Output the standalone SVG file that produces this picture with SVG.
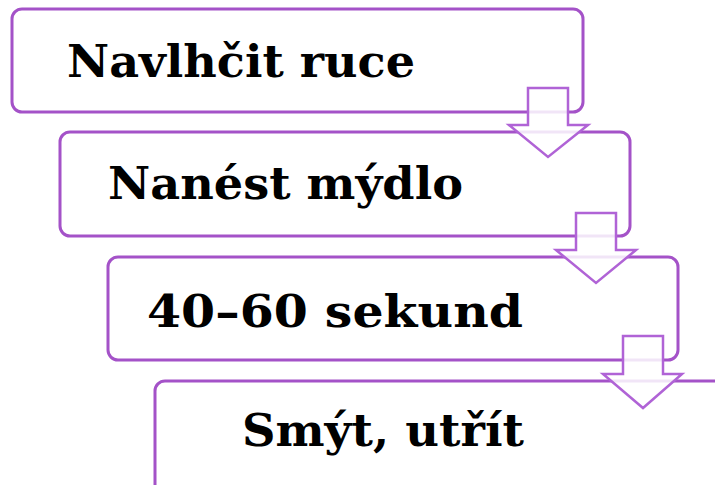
<svg xmlns="http://www.w3.org/2000/svg" width="715" height="485" viewBox="0 0 715 485">
<style>
.box{fill:#ffffff;stroke:#a452c8;stroke-width:3}
.arr{fill:#ffffff;fill-opacity:0.85;stroke:#b063d6;stroke-width:2.5;stroke-linejoin:miter}
.lbl{font-family:"DejaVu Serif","Liberation Serif",serif;font-weight:bold;font-size:45px;fill:#000000}
</style>
<rect width="715" height="485" fill="#ffffff"/>
<g id="node1"><rect class="box" x="12" y="9" width="571" height="103" rx="10"/><text class="lbl" x="67" y="77" textLength="348" lengthAdjust="spacingAndGlyphs">Navlhčit ruce</text></g>
<g id="node2"><rect class="box" x="60" y="132" width="570" height="104" rx="10"/><text class="lbl" x="108" y="199" textLength="355" lengthAdjust="spacingAndGlyphs">Nanést mýdlo</text></g>
<g id="node3"><rect class="box" x="108" y="257" width="570" height="103" rx="10"/><text class="lbl" x="147" y="327" textLength="376" lengthAdjust="spacingAndGlyphs">40–60 sekund</text></g>
<g id="node4"><rect class="box" x="155" y="381" width="580" height="120" rx="10"/><text class="lbl" x="242" y="446" textLength="282" lengthAdjust="spacingAndGlyphs">Smýt, utřít</text></g>
<g id="connectors">
<polygon class="arr" points="528,88 568,88 568,125 588,125 548,157 509,125 528,125"/>
<polygon class="arr" points="576,213 616,213 616,250 636,250 596,283 556,250 576,250"/>
<polygon class="arr" points="623,336 663,336 663,374 682,374 643,408 603,374 623,374"/>
</g>
</svg>
